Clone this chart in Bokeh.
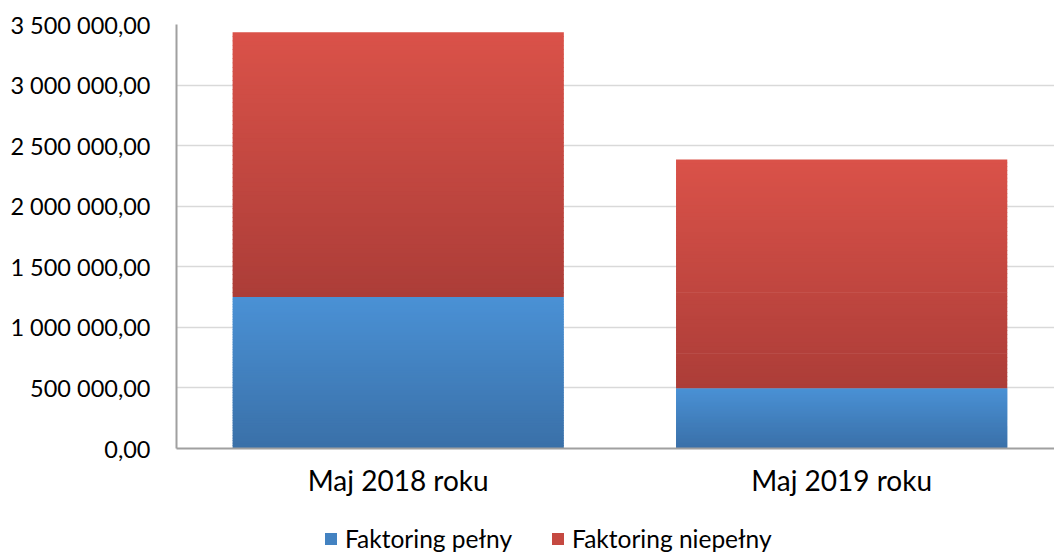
from bokeh.plotting import figure
from bokeh.models import (ColumnDataSource, Range1d, FixedTicker, Legend, LegendItem)
from bokeh.layouts import column
from bokeh.embed import file_html
from bokeh.resources import INLINE

# ---- data ----
categories = ["Maj 2018 roku", "Maj 2019 roku"]
faktoring_pelny = [1250000, 498000]
faktoring_niepelny = [2185000, 1888000]
series_names = ["Faktoring pełny", "Faktoring niepełny"]
y_tick_values = [0, 500000, 1000000, 1500000, 2000000, 2500000, 3000000, 3500000]
y_tick_labels = ["0,00", "500 000,00", "1 000 000,00", "1 500 000,00",
                 "2 000 000,00", "2 500 000,00", "3 000 000,00", "3 500 000,00"]

# ---- styles ----
FONT = "Lato"
BLUE_TOP, BLUE_BOT = (0x4A, 0x91, 0xD5), (0x3A, 0x70, 0xA8)
RED_TOP, RED_BOT = (0xDA, 0x52, 0x49), (0xAC, 0x3D, 0x38)
BAR_W = 0.747
N_SLICES = 60
OVERLAP = 6000  # value units, about 0.7 px, hides seams between slices


def hexcol(c):
    return "#%02x%02x%02x" % tuple(int(round(v)) for v in c)


def lerp(a, b, t):
    return tuple(a[i] + (b[i] - a[i]) * t for i in range(3))


p = figure(width=1054, height=510, output_backend="svg", toolbar_location=None,
           x_range=Range1d(-0.5, 1.48), y_range=Range1d(0, 3500000),
           min_border_left=176, min_border_right=0, min_border_top=24,
           min_border_bottom=62)
p.outline_line_color = None
p.background_fill_color = "white"
p.border_fill_color = "white"

xs = list(range(len(categories)))

# gradient stacked bars built from the data as thin slices
def add_segment(bottoms, tops, ctop, cbot):
    l, r, b, t, c = [], [], [], [], []
    for i, x in enumerate(xs):
        y0, y1 = bottoms[i], tops[i]
        for k in range(N_SLICES):
            s0 = y0 + (y1 - y0) * k / N_SLICES
            s1 = y0 + (y1 - y0) * (k + 1) / N_SLICES
            l.append(x - BAR_W / 2)
            r.append(x + BAR_W / 2)
            b.append(s0)
            t.append(min(y1, s1 + OVERLAP))
            c.append(hexcol(lerp(cbot, ctop, (k + 0.5) / N_SLICES)))
    src = ColumnDataSource(dict(left=l, right=r, bottom=b, top=t, color=c))
    p.quad(left="left", right="right", bottom="bottom", top="top", source=src,
           fill_color="color", line_color=None)

zeros = [0] * len(categories)
tops1 = faktoring_pelny
tops2 = [a + b for a, b in zip(faktoring_pelny, faktoring_niepelny)]
add_segment(zeros, tops1, BLUE_TOP, BLUE_BOT)
add_segment(tops1, tops2, RED_TOP, RED_BOT)

# axes
p.xaxis.ticker = FixedTicker(ticks=xs)
p.xaxis.major_label_overrides = {x: c for x, c in zip(xs, categories)}
p.yaxis.ticker = FixedTicker(ticks=y_tick_values)
p.yaxis.major_label_overrides = {v: s for v, s in zip(y_tick_values, y_tick_labels)}

for ax in (p.xaxis, p.yaxis):
    ax.axis_line_color = "#a0a0a0"
    ax.axis_line_width = 2
    ax.major_tick_line_color = None
    ax.minor_tick_line_color = None
    ax.major_tick_out = 0
    ax.major_tick_in = 0
    ax.major_label_text_font = FONT
    ax.major_label_text_color = "#000000"

p.yaxis.major_label_text_font_size = "23.5px"
p.yaxis.major_label_standoff = 26
p.xaxis.major_label_text_font_size = "28px"
p.xaxis.major_label_standoff = 14

p.xgrid.grid_line_color = None
p.ygrid.grid_line_color = "#d9d9d9"
p.ygrid.grid_line_width = 1.5

# legend in its own strip below the chart (swatch renderers lie off-screen)
lg = figure(width=1054, height=44, output_backend="svg", toolbar_location=None,
            x_range=Range1d(0, 1), y_range=Range1d(0, 1),
            min_border_left=0, min_border_right=0, min_border_top=0,
            min_border_bottom=0)
lg.axis.visible = False
lg.grid.visible = False
lg.outline_line_color = None
blue_r = lg.quad(left=[-3], right=[-2], bottom=[-3], top=[-2],
                 fill_color=hexcol(lerp(BLUE_BOT, BLUE_TOP, 0.55)), line_color=None)
red_r = lg.quad(left=[-3], right=[-2], bottom=[-3], top=[-2],
                fill_color=hexcol(lerp(RED_BOT, RED_TOP, 0.55)), line_color=None)
legend = Legend(items=[LegendItem(label=series_names[0], renderers=[blue_r]),
                       LegendItem(label=series_names[1], renderers=[red_r])],
                orientation="horizontal", location=(147, 1),
                glyph_width=15, glyph_height=15, label_standoff=7, spacing=38,
                padding=0, margin=0, border_line_color=None,
                background_fill_alpha=0,
                label_text_font=FONT, label_text_font_size="24.5px",
                label_text_color="#000000", label_height=20)
lg.add_layout(legend, "center")

open("out.html", "w").write(file_html(column(p, lg, spacing=0), INLINE))
